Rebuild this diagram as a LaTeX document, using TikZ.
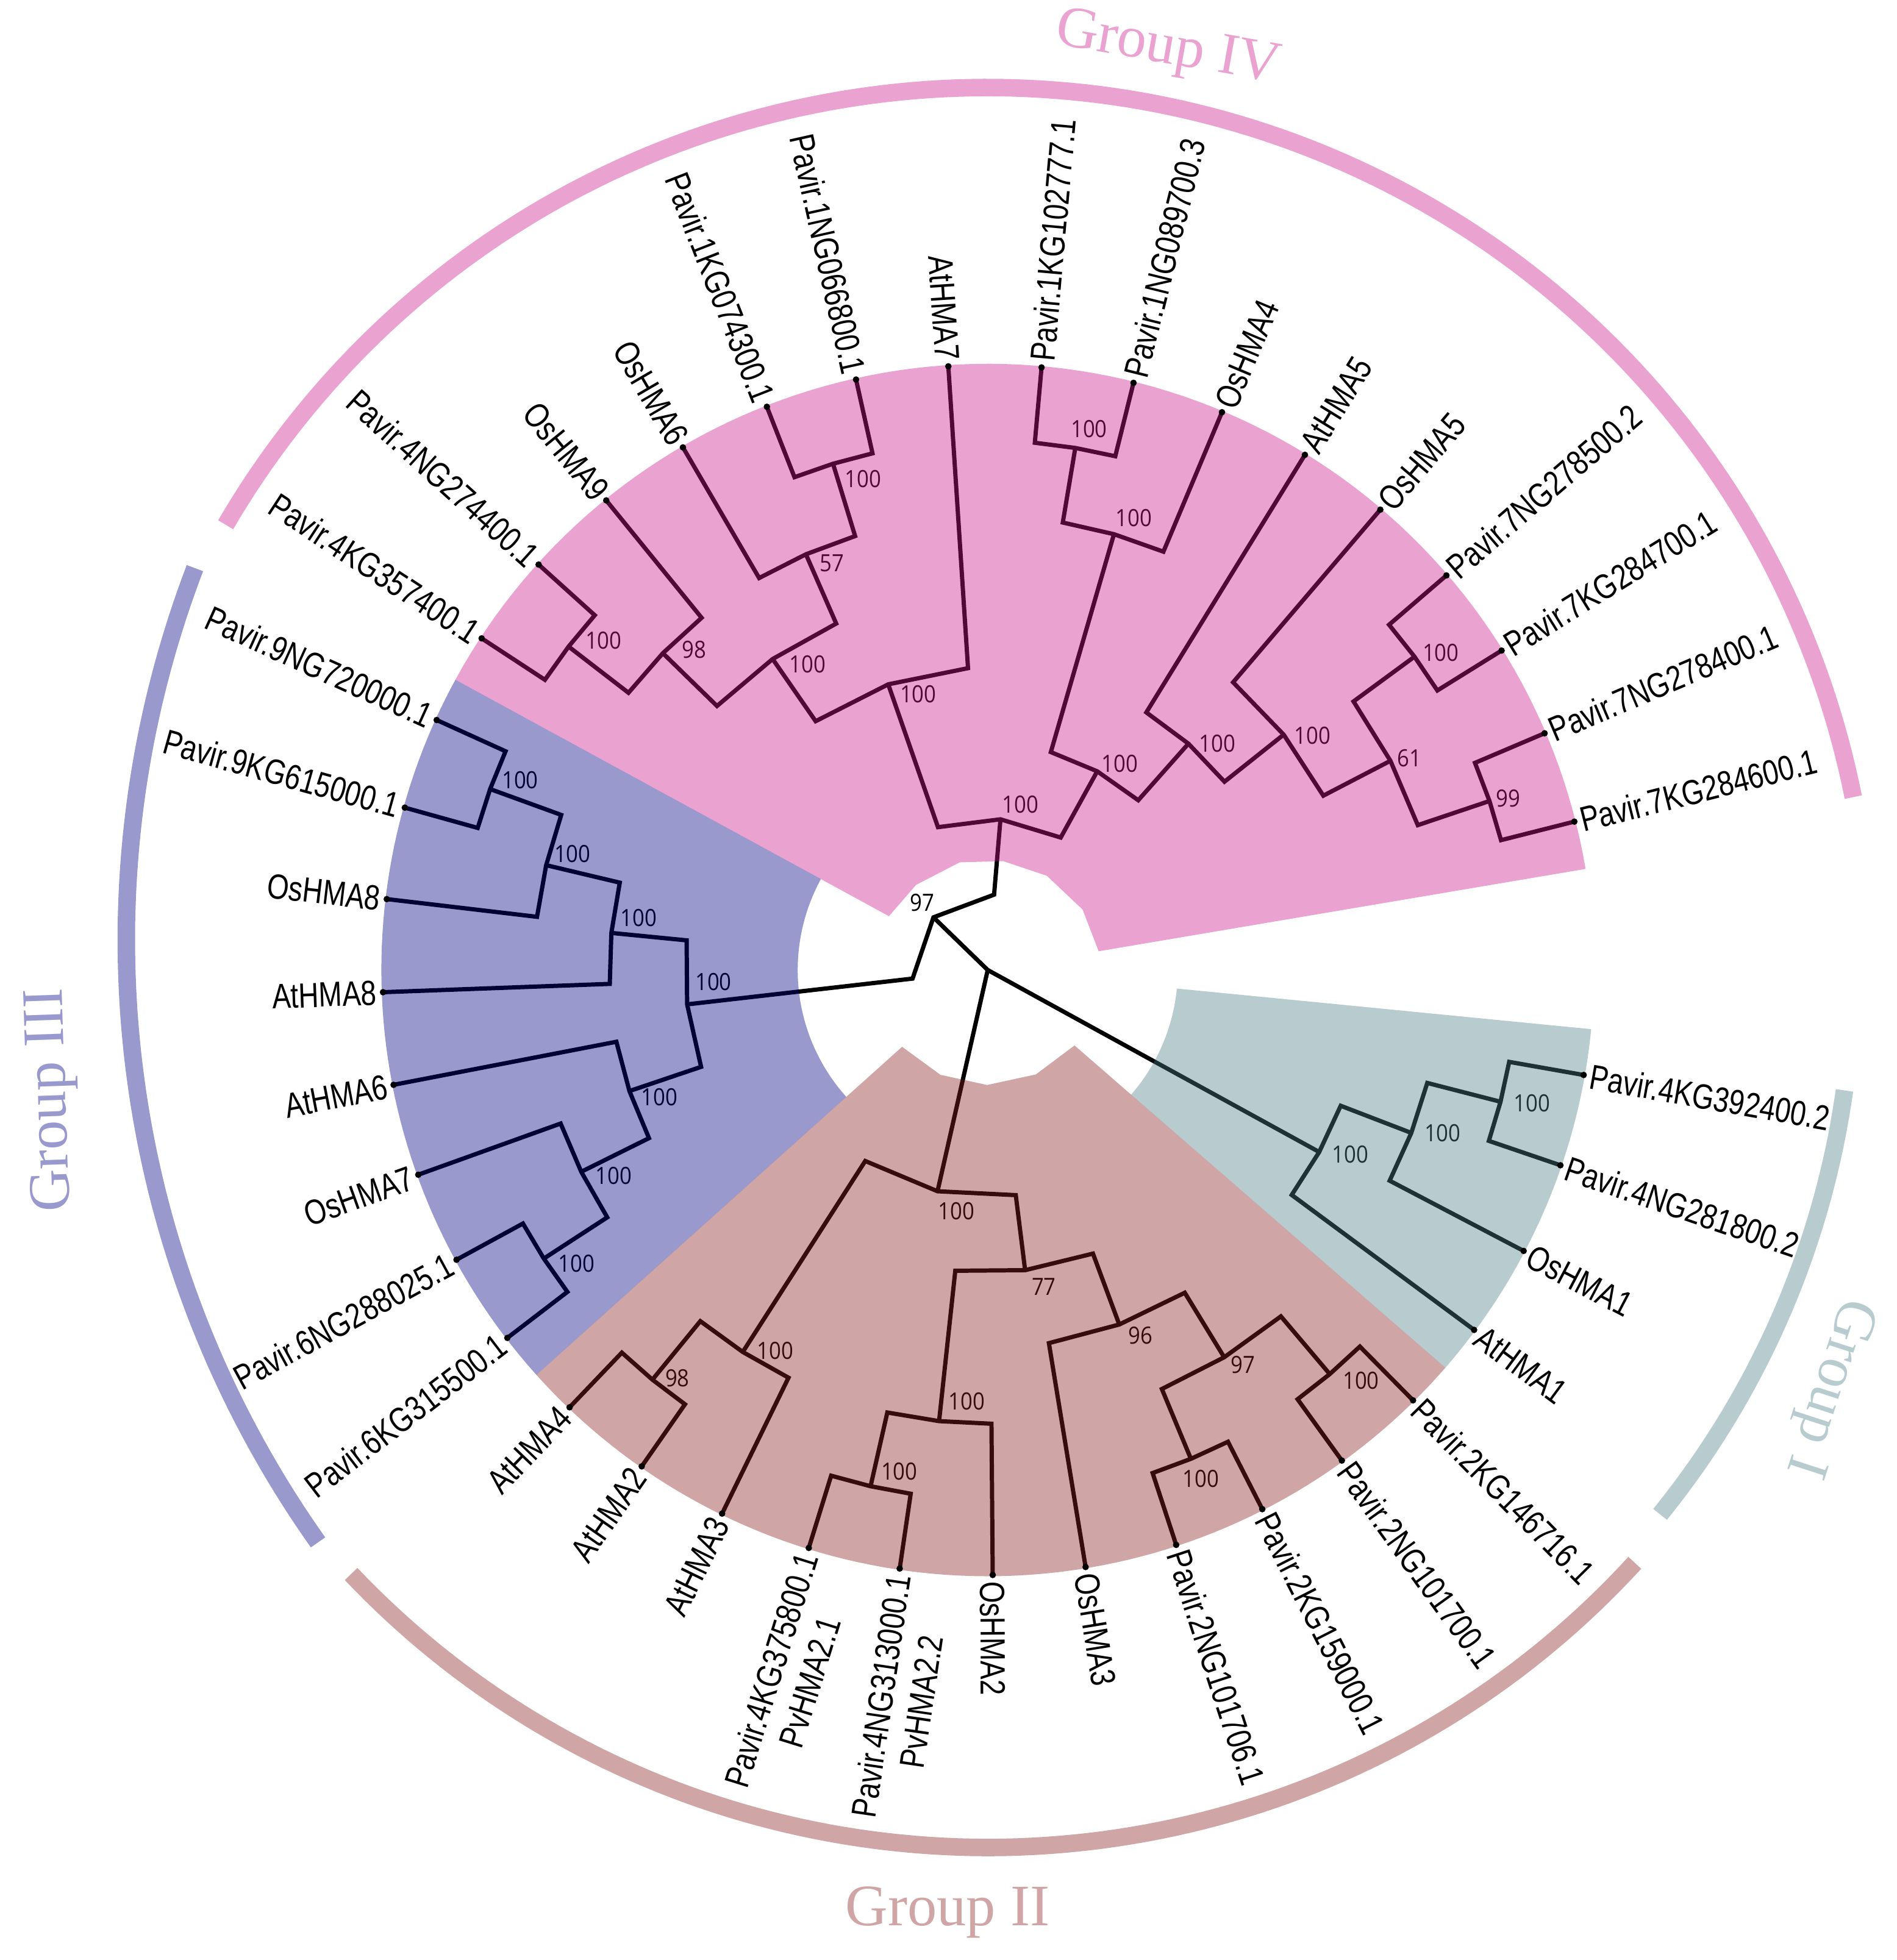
\documentclass[tikz,border=0pt]{standalone}
\usepackage{fontspec}
\setmainfont{Liberation Sans}
\newfontfamily\labfont[FakeStretch=0.8]{Liberation Sans}
\newfontfamily\bsfont[FakeStretch=0.89]{Open Sans}
\newfontfamily\grpfont{Liberation Serif}
\usetikzlibrary{calc}
\definecolor{cIV}{RGB}{202,22,140}
\definecolor{cIII}{RGB}{0,0,132}
\definecolor{cII}{RGB}{137,30,30}
\definecolor{cI}{RGB}{77,127,135}
\definecolor{gIV}{RGB}{234,162,209}
\definecolor{gIII}{RGB}{153,153,206}
\definecolor{gII}{RGB}{208,165,165}
\definecolor{gI}{RGB}{184,204,207}
\newcommand\PC[3]{\coordinate (#1) at ({790+(#3)*cos(#2)},{776-(#3)*sin(#2)});}
\newcommand\setang[2]{\expandafter\xdef\csname ang@#1\endcsname{#2}}
\newcommand\getang[1]{\csname ang@#1\endcsname}
\newcommand\leafdef[2]{%
  \pgfmathsetmacro\LFa{14.2+8.837*#2}%
  \setang{#1}{\LFa}%
  \PC{#1}{\LFa}{484}%
  \PC{#1-t}{\LFa}{489}%
}
\newcommand\inode[4]{%
  \pgfmathsetmacro\NDa{(\getang{#2}+\getang{#3})/2}%
  \setang{#1}{\NDa}%
  \pgfmathsetmacro\NDr{484-60.5*#4}%
  \PC{#1}{\NDa}{\NDr}%
  \PC{#1-a}{\getang{#2}}{\NDr}%
  \PC{#1-b}{\getang{#3}}{\NDr}%
  \draw[tree] (#2) -- (#1-a) -- (#1) -- (#1-b) -- (#3);%
}
\newcommand\bs[4]{\node[bsl] (bs-#1) at ($(#1)+(#2,#3)$) {#4};}
\newcommand\leaflab[2]{%
  \pgfmathsetmacro\LFa{\getang{#1}}%
  \pgfmathtruncatemacro\LFs{cos(\LFa)>=0 ? 1 : 0}%
  \ifnum\LFs=1
    \node[lab,anchor=west,rotate=\LFa] (#1-l) at (#1-t) {#2};%
  \else
    \pgfmathsetmacro\LFb{\LFa+180}%
    \node[lab,anchor=east,rotate=\LFb] (#1-l) at (#1-t) {#2};%
  \fi
  \fill[black] (#1) circle[radius=2.6];%
}
\begin{document}
\begin{tikzpicture}[x=1pt,y=-1pt,
  tree/.style={line width=3.4pt, black, line join=miter},
  lab/.style={font=\labfont\fontsize{28}{33}\selectfont, inner sep=0pt, text height=20pt, text depth=0pt},
  bsl/.style={font=\bsfont\fontsize{19}{19}\selectfont, inner sep=0pt},
  grp/.style={font=\grpfont\fontsize{47}{47}\selectfont, inner sep=0pt},
  garc/.style={line width=14pt}]
\useasboundingbox (0,0) rectangle (1517,1568);
% leaves
\foreach \k in {0,...,38} {\leafdef{L\k}{\k}}
% Group IV
\inode{Na}{L15}{L14}{1}
\inode{Nb}{Na}{L13}{2}
\inode{Nd}{L11}{L10}{1}
\inode{Nc}{L12}{Nd}{2}
\inode{Ne}{Nb}{Nc}{3}
\inode{Nf}{Ne}{L9}{4}
\inode{Ng}{L8}{L7}{1}
\inode{Nh}{Ng}{L6}{2}
\inode{Nj}{L1}{L0}{1}
\inode{Nk}{L3}{L2}{1}
\inode{Nl}{Nk}{Nj}{2}
\inode{Nm}{L4}{Nl}{3}
\inode{Nn}{L5}{Nm}{4}
\inode{No}{Nh}{Nn}{5}
\inode{Np}{Nf}{No}{6}
% Group III
\inode{Nq}{L16}{L17}{1}
\inode{Nr}{Nq}{L18}{2}
\inode{Ns}{Nr}{L19}{3}
\inode{Nw}{L22}{L23}{1}
\inode{Nv}{L21}{Nw}{2}
\inode{Nu}{L20}{Nv}{3}
\inode{Nt}{Ns}{Nu}{4}
\inode{R}{Np}{Nt}{7}
% Group II
\inode{NA}{L24}{L25}{1}
\inode{NB}{NA}{L26}{2}
\inode{NC}{L27}{L28}{1}
\inode{ND}{NC}{L29}{2}
\inode{NE}{L31}{L32}{1}
\inode{NF}{L33}{L34}{1}
\inode{NG}{NE}{NF}{2}
\inode{NH}{L30}{NG}{3}
\inode{NI}{ND}{NH}{4}
\inode{NJ}{NB}{NI}{5}
% Group I
\inode{NK}{L37}{L38}{1}
\inode{NL}{L36}{NK}{2}
\inode{NM}{L35}{NL}{3}
% root
\PC{O}{0}{0}
\draw[tree] (O) -- (R);
\draw[tree] (O) -- (NJ);
\draw[tree] (O) -- (NM);
% bootstrap values
\bs{Na}{28}{-5}{100} \bs{Nb}{25}{-3}{98} \bs{Nc}{21}{7}{57} \bs{Nd}{24}{12}{100}
\bs{Ne}{28}{4}{100} \bs{Nf}{24}{8}{100} \bs{Ng}{11}{-15}{100} \bs{Nh}{16}{-13}{100}
\bs{No}{18}{-6}{100} \bs{Nn}{23}{0}{100} \bs{Nm}{23}{1}{100} \bs{Nl}{15}{-2}{61}
\bs{Nk}{21}{-3}{100} \bs{Nj}{15}{-2}{99} \bs{Np}{16}{-12}{100} \bs{R}{-9}{-12}{97}
\bs{Nq}{24}{-7}{100} \bs{Nr}{21}{-9}{100} \bs{Ns}{22}{-12}{100} \bs{Nt}{21}{-18}{100}
\bs{Nu}{24}{5}{100} \bs{Nv}{26}{3}{100} \bs{Nw}{26}{4}{100}
\bs{NA}{20}{-1}{98} \bs{NB}{26}{-1}{100} \bs{NC}{23}{-12}{100} \bs{ND}{22}{-16}{100}
\bs{NE}{8}{16}{100} \bs{NF}{25}{5}{100} \bs{NG}{15}{6}{97} \bs{NH}{17}{9}{96}
\bs{NI}{15}{13}{77} \bs{NJ}{15}{16}{100}
\bs{NK}{25}{1}{100} \bs{NL}{25}{0}{100} \bs{NM}{25}{2}{100}
% sectors
\PC{pi1}{151.4}{90}\PC{pi2}{130}{89}\PC{pi3}{104.6}{89}\PC{pi4}{81.9}{88}
\PC{pi5}{57.9}{89}\PC{pi6}{32.5}{90}\PC{pi7}{9.6}{90}
\fill[cIV,fill opacity=0.4] plot[domain=9.6:151.4,samples=100] ({790+485*cos(\x)},{776-485*sin(\x)})
  -- (pi1) -- (pi2) -- (pi3) -- (pi4) -- (pi5) -- (pi6) -- (pi7) -- cycle;
\fill[cIII,fill opacity=0.4] plot[domain=151.4:221.9,samples=60] ({790+485*cos(\x)},{776-485*sin(\x)})
  -- plot[domain=221.9:151.4,samples=40] ({790+152*cos(\x)},{776-152*sin(\x)}) -- cycle;
\PC{bi1}{319}{92}\PC{bi2}{294.8}{92}\PC{bi3}{269.7}{92}\PC{bi4}{245.7}{92}\PC{bi5}{221.9}{92}
\fill[cII,fill opacity=0.4] plot[domain=221.9:319,samples=80] ({790+485*cos(\x)},{776-485*sin(\x)})
  -- (bi1) -- (bi2) -- (bi3) -- (bi4) -- (bi5) -- cycle;
\fill[cI,fill opacity=0.4] plot[domain=319:354.4,samples=40] ({790+485*cos(\x)},{776-485*sin(\x)})
  -- plot[domain=354.4:319,samples=30] ({790+152*cos(\x)},{776-152*sin(\x)}) -- cycle;
% leaf labels
\leaflab{L0}{Pavir.7KG284600.1}
\leaflab{L1}{Pavir.7NG278400.1}
\leaflab{L2}{Pavir.7KG284700.1}
\leaflab{L3}{Pavir.7NG278500.2}
\leaflab{L4}{OsHMA5}
\leaflab{L5}{AtHMA5}
\leaflab{L6}{OsHMA4}
\leaflab{L7}{Pavir.1NG089700.3}
\leaflab{L8}{Pavir.1KG102777.1}
\leaflab{L9}{AtHMA7}
\leaflab{L10}{Pavir.1NG066800.1}
\leaflab{L11}{Pavir.1KG074300.1}
\leaflab{L12}{OsHMA6}
\leaflab{L13}{OsHMA9}
\leaflab{L14}{Pavir.4NG274400.1}
\leaflab{L15}{Pavir.4KG357400.1}
\leaflab{L16}{Pavir.9NG720000.1}
\leaflab{L17}{Pavir.9KG615000.1}
\leaflab{L18}{OsHMA8}
\leaflab{L19}{AtHMA8}
\leaflab{L20}{AtHMA6}
\leaflab{L21}{OsHMA7}
\leaflab{L22}{Pavir.6NG288025.1}
\leaflab{L23}{Pavir.6KG315500.1}
\leaflab{L24}{AtHMA4}
\leaflab{L25}{AtHMA2}
\leaflab{L26}{AtHMA3}
\leaflab{L27}{Pavir.4KG375800.1}
\leaflab{L28}{Pavir.4NG313000.1}
\leaflab{L29}{OsHMA2}
\leaflab{L30}{OsHMA3}
\leaflab{L31}{Pavir.2NG101706.1}
\leaflab{L32}{Pavir.2KG159000.1}
\leaflab{L33}{Pavir.2NG101700.1}
\leaflab{L34}{Pavir.2KG146716.1}
\leaflab{L35}{AtHMA1}
\leaflab{L36}{OsHMA1}
\leaflab{L37}{Pavir.4NG281800.2}
\leaflab{L38}{Pavir.4KG392400.2}
\pgfmathsetmacro\LFb{\getang{L27}+180}
\node[lab,anchor=north,rotate=\LFb,text height=32pt] (L27-m) at (L27-l.south) {PvHMA2.1};
\pgfmathsetmacro\LFb{\getang{L28}+180}
\node[lab,anchor=north,rotate=\LFb,text height=32pt] (L28-m) at (L28-l.south) {PvHMA2.2};
% group arcs
\draw[gIV,garc] plot[domain=11.3:149.7,samples=150] ({790+706*cos(\x)},{776-706*sin(\x)});
\draw[gIII,garc] plot[domain=159.1:215.3,samples=80] ({935+834*cos(\x)},{752-834*sin(\x)});
\draw[gII,garc] plot[domain=223.5:317.5,samples=100] ({790+702*cos(\x)},{776-702*sin(\x)});
\draw[gI,garc] plot[domain=321:352,samples=40] ({790+692*cos(\x)},{776-692*sin(\x)});
% group labels
\node[grp,text=gIV,rotate=-10] (gl4) at (934,40) {Group IV};
\node[grp,text=gIII,rotate=92] (gl3) at (42,880) {Group III};
\node[grp,text=gII] (gl2) at (758,1530) {Group II};
\node[grp,text=gI,rotate=-108] (gl1) at (1462,1110) {Group I};
\end{tikzpicture}
\end{document}
